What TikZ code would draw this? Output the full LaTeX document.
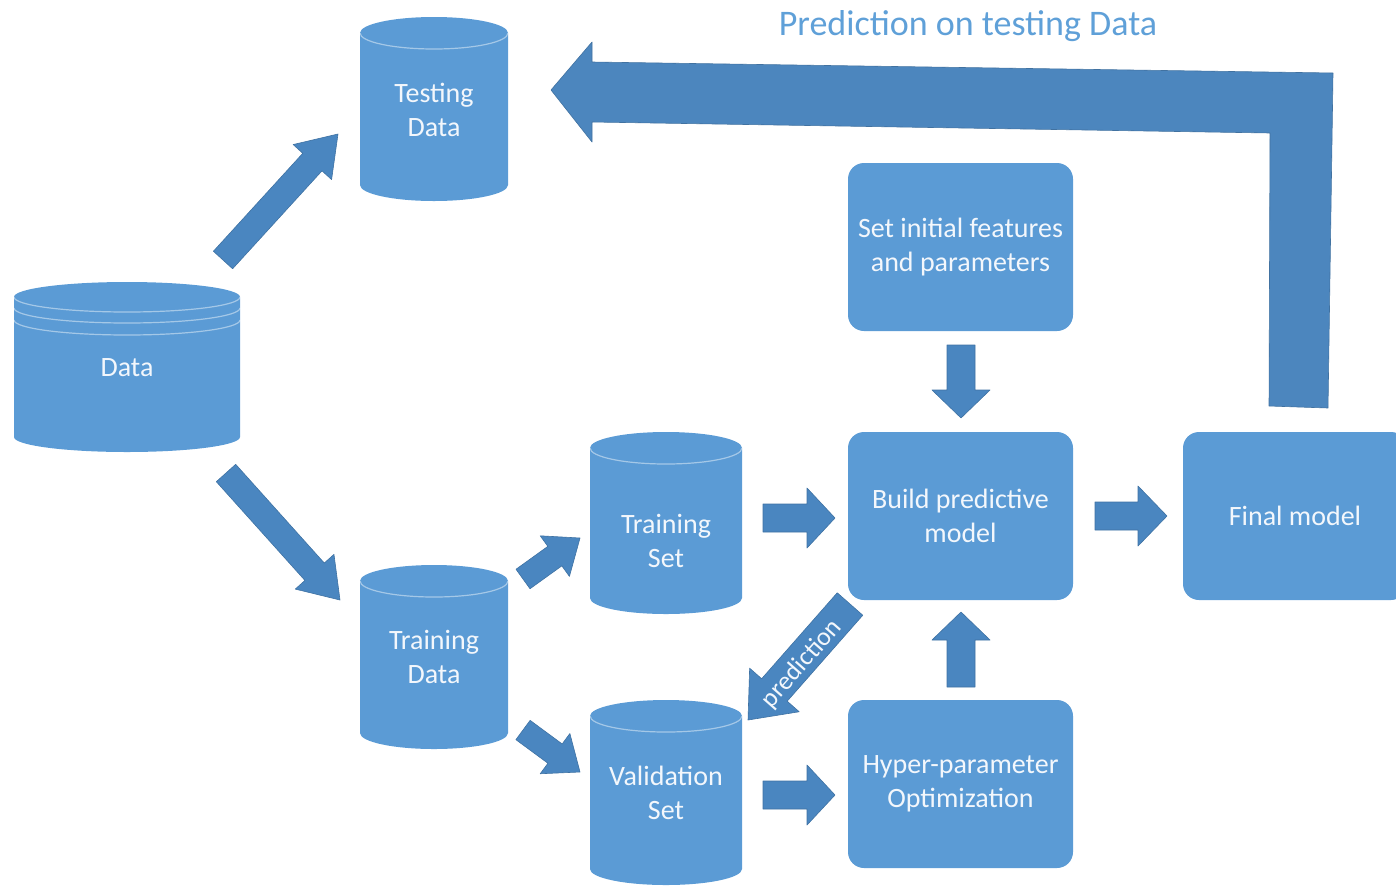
\documentclass[tikz,border=0pt]{standalone}
\usepackage{fontspec}
\setmainfont{Carlito}
\usetikzlibrary{calc}

\definecolor{boxc}{HTML}{5B9BD5}
\definecolor{arrc}{HTML}{4A86C0}
\definecolor{bigarr}{HTML}{4C86BE}
\definecolor{txtc}{HTML}{F3F7FC}
\definecolor{ttlc}{HTML}{5FA0D8}

\tikzset{
  cylfill/.style={fill=boxc},
  rim/.style={draw=white, draw opacity=0.45, line width=1.2pt},
  arrowfill/.style={fill=arrc, draw=arrc!85!black, line width=0.6pt, line join=round},
  lbl/.style={text=txtc, align=center, inner sep=0pt,
    font=\fontsize{28}{34}\selectfont},
  box/.style={fill=boxc, rounded corners=16pt, minimum width=225pt,
    minimum height=168pt, text=txtc, align=center, inner sep=0pt,
    font=\fontsize{28}{34}\selectfont},
  ttl/.style={text=ttlc, inner sep=0pt, font=\fontsize{36}{40}\selectfont},
}

% drum: centre x, top y, bottom y, x radius, y radius (y measured downwards)
\newcommand\drum[5]{%
  \fill[cylfill] ({#1-#4},{-(#2+#5)}) -- ({#1-#4},{-(#3-#5)})
     arc[start angle=180,end angle=360,x radius=#4,y radius=#5]
     -- ({#1+#4},{-(#2+#5)})
     arc[start angle=0,end angle=180,x radius=#4,y radius=#5] -- cycle;
  \draw[rim] ({#1-#4},{-(#2+#5)})
     arc[start angle=180,end angle=360,x radius=#4,y radius=#5];
}

% block arrow: tail, tip, shaft half width, head half width, head length
\newcommand\blk[5]{%
  \filldraw[arrowfill] let \p1=(#1), \p2=(#2), \n1={atan2(\y2-\y1,\x2-\x1)} in
    ($(\p1)+(\n1+90:#3)$)
    -- ($(\p2)+(\n1+180:#5)+(\n1+90:#3)$)
    -- ($(\p2)+(\n1+180:#5)+(\n1+90:#4)$)
    -- (\p2)
    -- ($(\p2)+(\n1+180:#5)+(\n1-90:#4)$)
    -- ($(\p2)+(\n1+180:#5)+(\n1-90:#3)$)
    -- ($(\p1)+(\n1-90:#3)$) -- cycle;
}

\begin{document}
\begin{tikzpicture}[x=1pt,y=1pt]
\useasboundingbox (0,0) rectangle (1396,-887);
\clip (0,0) rectangle (1396,-887);

% ---- data stores ----
\drum{127}{282}{452}{113}{15}
\draw[rim] (14,-308) arc[start angle=180,end angle=360,x radius=113,y radius=15];
\draw[rim] (14,-320) arc[start angle=180,end angle=360,x radius=113,y radius=15];
\node[lbl] (data) at (127,-368) {Data};

\drum{434}{17}{201}{74}{16}
\node[lbl] (testing) at (434,-110) {Testing\\Data};

\drum{434}{565}{749}{74}{16}
\node[lbl] (traindata) at (434,-657) {Training\\Data};

\drum{666}{432}{614}{76}{16}
\node[lbl] (trainset) at (666,-541) {Training\\Set};

\drum{666}{700}{885}{76}{16}
\node[lbl] (valset) at (666,-793) {Validation\\Set};

% ---- process boxes ----
\node[box] (init)  at (960.5,-247) {Set initial features\\and parameters};
\node[box] (build) at (960.5,-516) {Build predictive\\model};
\node[box] (hyper) at (960.5,-784) {Hyper-parameter\\Optimization};
\node[box, minimum width=224pt] (final) at (1295,-516) {Final model};

% ---- title of the feedback path ----
\node[ttl] (feedback) at (968,-26) {Prediction on testing Data};

% ---- arrow end points ----
\coordinate (a1s) at (223,-260);  \coordinate (a1e) at (338,-134);
\coordinate (a2s) at (226,-473);  \coordinate (a2e) at (340,-600);
\coordinate (a3s) at (523,-579);  \coordinate (a3e) at (580,-538);
\coordinate (a4s) at (523,-730);  \coordinate (a4e) at (580,-772);
\coordinate (a5s) at (763,-518);  \coordinate (a5e) at (835,-518);
\coordinate (a6s) at (763,-795);  \coordinate (a6e) at (835,-795);
\coordinate (a7s) at (961,-345);  \coordinate (a7e) at (961,-418);
\coordinate (a8s) at (961,-687);  \coordinate (a8e) at (961,-612);
\coordinate (a9s) at (1095,-516); \coordinate (a9e) at (1167,-516);
\coordinate (pds) at (850,-604);  \coordinate (pde) at (748,-720);

\blk{a1s}{a1e}{13}{26}{38}
\blk{a2s}{a2e}{13}{26}{38}
\blk{a3s}{a3e}{12}{25}{31}
\blk{a4s}{a4e}{12}{25}{31}
\blk{a5s}{a5e}{14}{30}{28}
\blk{a6s}{a6e}{14}{30}{28}
\blk{a7s}{a7e}{14}{29}{28}
\blk{a8s}{a8e}{14}{29}{28}
\blk{a9s}{a9e}{14}{30}{29}
\blk{pds}{pde}{17}{33}{40}
\node[text=txtc, rotate=48.7, inner sep=0pt, font=\fontsize{26}{28}\selectfont]
  (predlbl) at (802,-664) {prediction};

% ---- feedback arrow from the final model back to the testing data ----
\filldraw[fill=bigarr, draw=bigarr!85!black, line width=0.6pt, line join=round]
  (551,-90) -- (592,-42) -- (592,-62) -- (1333,-73) -- (1328,-408)
  -- (1269,-406) -- (1270,-133) -- (592,-122) -- (592,-142) -- cycle;
\end{tikzpicture}
\end{document}
